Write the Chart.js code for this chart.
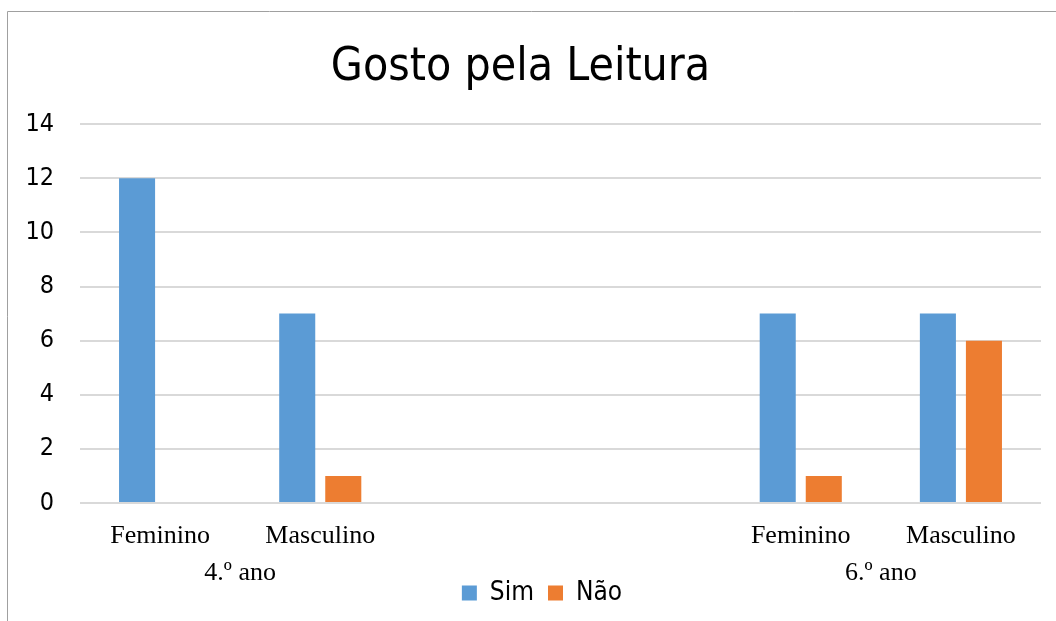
<!DOCTYPE html>
<html>
<head>
<meta charset="utf-8">
<script src="https://cdn.jsdelivr.net/npm/chart.js@4"></script>
<style>
  body { margin: 0; background: #fff; }
  canvas { display: block; }
</style>
</head>
<body>
<canvas id="leituraChart" width="1056" height="621"></canvas>
<script>
// categorias (duas vazias no meio, como no original)
const categorias = ['Feminino', 'Masculino', '', '', 'Feminino', 'Masculino'];
const anos = ['4.º ano', '', '6.º ano'];
const sim = [12, 7, null, null, 7, 7];
const nao = [0, 1, null, null, 1, 6];

const sansFont = "'DejaVu Sans Condensed', 'DejaVu Sans', sans-serif";
const serifFont = "'Liberation Serif', 'Times New Roman', serif";

// moldura cinza (só topo e esquerda aparecem no recorte)
const frame = {
  id: 'frame',
  afterDraw(chart) {
    const ctx = chart.ctx;
    ctx.save();
    ctx.strokeStyle = '#a0a0a0';
    ctx.lineWidth = 1;
    ctx.beginPath();
    ctx.moveTo(7.5, 621);
    ctx.lineTo(7.5, 11.5);
    ctx.lineTo(1056, 11.5);
    ctx.stroke();
    ctx.restore();
  }
};

// sobe a legenda para junto dos rótulos dos anos (como no Excel)
const legendNudge = {
  id: 'legendNudge',
  afterLayout(chart) {
    const lg = chart.legend;
    const dy = 591 - (lg.top + lg.height / 2);
    const dx = 542 - (lg.left + lg.right) / 2;
    lg.top += dy; lg.bottom += dy;
    lg.left += dx; lg.right += dx;
  }
};

const chart = new Chart(document.getElementById('leituraChart'), {
  type: 'bar',
  data: {
    labels: categorias,
    datasets: [
      { label: 'Sim', data: sim, backgroundColor: '#5b9bd5', barPercentage: 0.783, categoryPercentage: 0.575 },
      { label: 'Não', data: nao, backgroundColor: '#ed7d31', barPercentage: 0.783, categoryPercentage: 0.575 }
    ]
  },
  options: {
    responsive: false,
    animation: false,
    layout: { padding: { left: 0, right: 15, top: 0, bottom: -14 } },
    plugins: {
      title: {
        display: true,
        text: 'Gosto pela Leitura',
        color: '#000',
        font: { family: sansFont, size: 46, weight: 'normal', lineHeight: 1.2 },
        padding: { top: 40, bottom: 29 }
      },
      legend: {
        position: 'bottom',
        labels: {
          color: '#000',
          boxWidth: 15,
          boxHeight: 15,
          padding: 14,
          font: { family: sansFont, size: 26 }
        }
      },
      tooltip: { enabled: false }
    },
    scales: {
      x: {
        grid: { display: false, drawTicks: false },
        border: { display: false },
        ticks: { color: '#000', padding: 18, maxRotation: 0, autoSkip: false, font: { family: serifFont, size: 26 } },
        afterFit(scale) { scale.height = 44; }
      },
      ano: {
        type: 'category',
        position: 'bottom',
        labels: anos,
        offset: true,
        grid: { display: false, drawTicks: false },
        border: { display: false },
        ticks: { color: '#000', padding: 11, maxRotation: 0, autoSkip: false, font: { family: serifFont, size: 26 } },
        afterFit(scale) { scale.height = 38; }
      },
      y: {
        min: 0,
        max: 14,
        ticks: { stepSize: 2, color: '#000', padding: 26, font: { family: sansFont, size: 25 } },
        grid: { color: '#d9d9d9', lineWidth: 2, drawTicks: false },
        border: { display: false },
        afterFit(scale) { scale.width = 80; }
      }
    }
  },
  plugins: [frame, legendNudge]
});
</script>
</body>
</html>
